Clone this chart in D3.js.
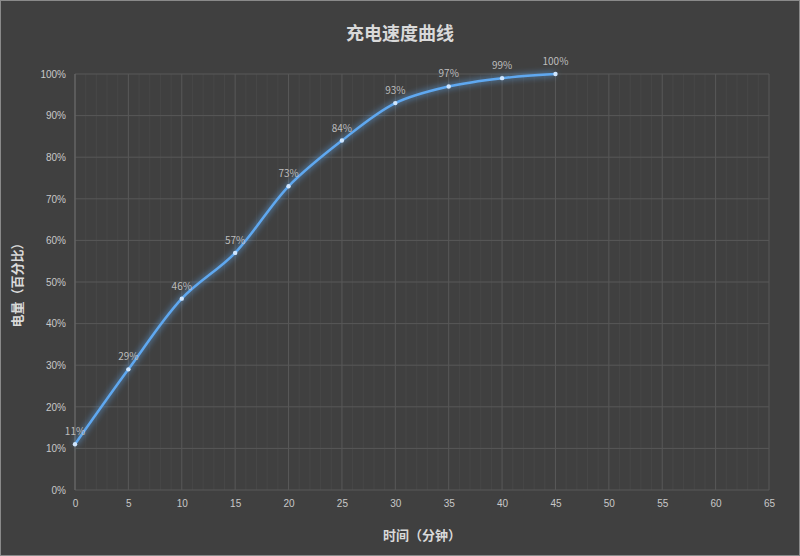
<!DOCTYPE html>
<html><head><meta charset="utf-8">
<script src="https://cdn.jsdelivr.net/npm/d3@7"></script>
<style>body{margin:0;background:#404040}</style>
</head><body>
<script>
const minutes = [0, 5, 10, 15, 20, 25, 30, 35, 40, 45];
const charge = [11, 29, 46, 57, 73, 84, 93, 97, 99, 100];
const xTicks = d3.range(0, 70, 5);
const yTicks = d3.range(0, 110, 10);

const width = 800, height = 556;
const svg = d3.select("body").append("svg").attr("width", width).attr("height", height)
  .style("font-family", "'Noto Sans CJK SC', 'Noto Sans', sans-serif");

svg.append("rect").attr("x", 0.5).attr("y", 0.5).attr("width", width - 1).attr("height", height - 1)
  .attr("fill", "#404040").attr("stroke", "#8a8a8a");

const x = d3.scaleLinear().domain([0, 65]).range([75, 769]);
const y = d3.scaleLinear().domain([0, 100]).range([490, 74]);

// minor vertical grid
svg.append("g").selectAll("line").data(d3.range(0, 66)).join("line")
  .attr("x1", d => x(d)).attr("x2", d => x(d)).attr("y1", y(0)).attr("y2", y(100))
  .attr("stroke", d => d % 5 === 0 ? "#585858" : "#474747").attr("stroke-width", 1);
svg.append("g").selectAll("line").data(yTicks).join("line")
  .attr("x1", x(0)).attr("x2", x(65)).attr("y1", d => y(d)).attr("y2", d => y(d))
  .attr("stroke", "#585858");
svg.append("line").attr("x1", x(0)).attr("x2", x(0)).attr("y1", y(0)).attr("y2", y(100)).attr("stroke", "#6a6a6a");

const xAxis = svg.append("g").attr("transform", `translate(0,${y(0)})`)
  .call(d3.axisBottom(x).tickValues(xTicks).tickSize(0).tickPadding(10));
const yAxis = svg.append("g").attr("transform", `translate(${x(0)},0)`)
  .call(d3.axisLeft(y).tickValues(yTicks).tickFormat(d => d + "%").tickSize(0).tickPadding(9));
[xAxis, yAxis].forEach(a => {
  a.select(".domain").remove();
  a.selectAll("text").attr("fill", "#c8c8c8").style("font-size", "10px");
});

svg.append("text").attr("x", 400).attr("y", 40).attr("text-anchor", "middle")
  .attr("fill", "#d9d9d9").style("font-size", "18px").style("font-weight", "bold").text("充电速度曲线");
svg.append("text").attr("x", 422).attr("y", 540).attr("text-anchor", "middle")
  .attr("fill", "#d9d9d9").style("font-size", "13px").style("font-weight", "bold").text("时间（分钟）");
svg.append("text").attr("transform", "translate(22,282) rotate(-90)").attr("text-anchor", "middle")
  .attr("fill", "#d9d9d9").style("font-size", "13px").style("font-weight", "bold").text("电量（百分比）");

const defs = svg.append("defs");
const f = defs.append("filter").attr("id", "glow").attr("x", "-20%").attr("y", "-20%").attr("width", "140%").attr("height", "140%");
f.append("feGaussianBlur").attr("stdDeviation", 3).attr("result", "b");
const m = f.append("feMerge");
m.append("feMergeNode").attr("in", "b");
m.append("feMergeNode").attr("in", "SourceGraphic");

const pts = minutes.map((d, i) => [d, charge[i]]);
const line = d3.line().x(d => x(d[0])).y(d => y(d[1])).curve(d3.curveCatmullRom.alpha(0.5));
svg.append("path").datum(pts).attr("d", line).attr("fill", "none")
  .attr("stroke", "#5fa8f0").attr("stroke-width", 2.5).attr("filter", "url(#glow)");
svg.append("g").selectAll("circle").data(pts).join("circle")
  .attr("cx", d => x(d[0])).attr("cy", d => y(d[1])).attr("r", 2.2).attr("fill", "#cfe6ff");
svg.append("g").selectAll("text").data(pts).join("text")
  .attr("x", d => x(d[0])).attr("y", d => y(d[1]) - 9).attr("text-anchor", "middle")
  .attr("fill", "#bdbdbd").style("font-size", "10px").text(d => d[1] + "%");
</script>
</body></html>
